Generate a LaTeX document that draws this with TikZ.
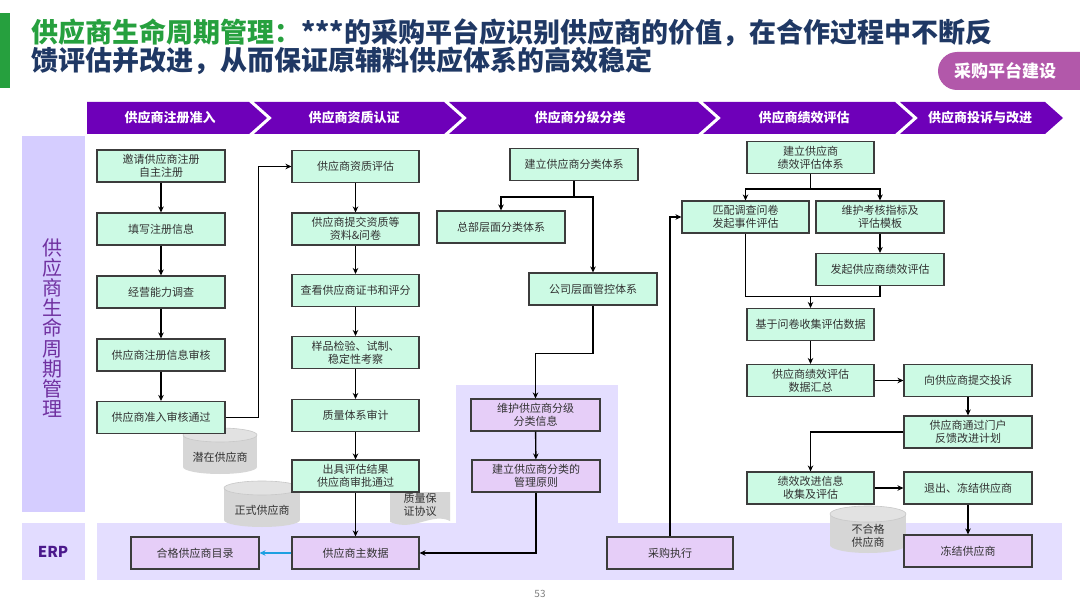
\documentclass[tikz,border=0pt]{standalone}
\usepackage{fontspec}
\setmainfont{Noto Sans CJK SC}
\usetikzlibrary{arrows.meta}
\definecolor{tgreen}{RGB}{38,160,62}
\definecolor{tnavy}{RGB}{31,56,100}
\definecolor{hdr}{RGB}{110,0,185}
\definecolor{tagc}{RGB}{178,88,170}
\definecolor{lavband}{RGB}{228,222,255}
\definecolor{lavcol}{RGB}{213,205,255}
\definecolor{lablav}{RGB}{226,220,255}
\definecolor{mint}{RGB}{204,250,228}
\definecolor{pboxc}{RGB}{230,206,248}
\definecolor{boxline}{RGB}{60,60,60}
\definecolor{erptxt}{RGB}{75,25,140}
\definecolor{lbltxt}{RGB}{112,48,160}
\definecolor{txtc}{RGB}{50,50,50}
\definecolor{cylbody}{RGB}{214,214,214}
\definecolor{cyltop}{RGB}{226,226,226}
\definecolor{cyledge}{RGB}{200,200,200}
\definecolor{bluearr}{RGB}{30,160,225}
\newcommand\cylshape[6]{%
  \fill[cylbody] (#1-#2,#4) rectangle (#1+#2,#5);
  \fill[cylbody] (#1,#5) ellipse[x radius=#2pt, y radius=#3pt];
  \filldraw[fill=cyltop,draw=cyledge,line width=0.6pt] (#1,#4) ellipse[x radius=#2pt, y radius=#3pt];
}
\begin{document}
\begin{tikzpicture}[x=1pt,y=-1pt,
  gbox/.style={draw=boxline,line width=1.1pt,fill=mint,minimum width=128pt,minimum height=32pt,
    inner sep=1pt,align=center,text=txtc,font=\fontsize{11}{13}\selectfont},
  pbox/.style={gbox,fill=pboxc},
  arr/.style={line width=1.4pt,-{Stealth[length=6pt,width=5.5pt]}},
  ln/.style={line width=1.4pt},
  hdrtxt/.style={text=white,font=\fontsize{13}{15}\selectfont\bfseries},
  chev/.style={fill=hdr},
  plain/.style={inner sep=0pt,align=center,text=txtc,font=\fontsize{11}{13}\selectfont}]
\useasboundingbox (0,0) rectangle (1080,607);
\fill[white] (0,0) rectangle (1080,607);

% title
\fill[tgreen] (0,13) rectangle (10,88);
\node[anchor=west,inner sep=0pt,text=tnavy,font=\fontsize{27}{29}\selectfont\bfseries] (t1) at (31,33)
  {\textcolor{tgreen}{供应商生命周期管理：}***的采购平台应识别供应商的价值，在合作过程中不断反};
\node[anchor=west,inner sep=0pt,text=tnavy,font=\fontsize{27}{29}\selectfont\bfseries] (t2) at (31,61)
  {馈评估并改进，从而保证原辅料供应体系的高效稳定};
\fill[tagc,rounded corners=19pt] (1110,52) -- (938,52) -- (938,90) -- (1110,90) -- cycle;
\node[text=white,font=\fontsize{17}{19}\selectfont\bfseries] (tag) at (1005,71) {采购平台建设};

% header chevrons
\fill[chev] (87,102) -- (249,102) -- (267,118) -- (249,134) -- (87,134) -- cycle;
\fill[chev] (254,102) -- (444,102) -- (462,118) -- (444,134) -- (254,134) -- (272,118) -- cycle;
\fill[chev] (449,102) -- (698,102) -- (716,118) -- (698,134) -- (449,134) -- (467,118) -- cycle;
\fill[chev] (703,102) -- (895,102) -- (913,118) -- (895,134) -- (703,134) -- (721,118) -- cycle;
\fill[chev] (900,102) -- (1045,102) -- (1063,118) -- (1045,134) -- (900,134) -- (918,118) -- cycle;
\node[hdrtxt] (h1) at (170,118) {供应商注册准入};
\node[hdrtxt] (h2) at (354,118) {供应商资质认证};
\node[hdrtxt] (h3) at (580,118) {供应商分级分类};
\node[hdrtxt] (h4) at (804,118) {供应商绩效评估};
\node[hdrtxt] (h5) at (980,118) {供应商投诉与改进};

% background regions
\fill[lavcol] (22,136) rectangle (85,512);
\fill[lablav] (22,523) rectangle (85,580);
\fill[lavband] (97,523) rectangle (1062,580);
\fill[lavband] (456,385) rectangle (618,523);
\node[text=lbltxt,align=center,inner sep=0pt,font=\fontsize{20}{20.2}\selectfont] (lbl) at (52,328)
  {供\\应\\商\\生\\命\\周\\期\\管\\理};
\node[text=erptxt,font=\fontsize{15}{17}\selectfont\bfseries] (erp) at (53,552) {ERP};

% cylinders and document shape
\cylshape{220}{37}{7}{435}{467}{}
\node[plain] (cylA) at (220,457) {潜在供应商};
\cylshape{262}{38}{7}{488}{520}{}
\node[plain] (cylB) at (262,510) {正式供应商};
\cylshape{868}{38}{8}{514}{545}{}
\node[plain] (cylC) at (868,536) {不合格\\供应商};
\fill[cylbody] (390,492) -- (450,492) -- (450,521) .. controls (432,512) and (414,532) .. (390,522) -- cycle;
\node[plain] (doc) at (420,505) {质量保\\证协议};

% column 1
\node[gbox] (c1a) at (161,166) {邀请供应商注册\\自主注册};
\node[gbox] (c1b) at (161,229) {填写注册信息};
\node[gbox] (c1c) at (161,292) {经营能力调查};
\node[gbox] (c1d) at (161,355) {供应商注册信息审核};
\node[gbox] (c1e) at (161,417.5) {供应商准入审核通过};
\node[pbox] (c1f) at (195,553) {合格供应商目录};

% column 2
\node[gbox,minimum width=127pt] (c2a) at (355.5,166.5) {供应商资质评估};
\node[gbox,minimum width=127pt] (c2b) at (355.5,229) {供应商提交资质等\\资料\&问卷};
\node[gbox,minimum width=127pt] (c2c) at (355.5,290.5) {查看供应商证书和评分};
\node[gbox,minimum width=127pt] (c2d) at (355.5,352.5) {样品检验、试制、\\稳定性考察};
\node[gbox,minimum width=127pt] (c2e) at (355.5,415.5) {质量体系审计};
\node[gbox,minimum width=127pt] (c2f) at (355.5,476) {出具评估结果\\供应商审批通过};
\node[pbox,minimum width=127pt] (c2g) at (355.5,553) {供应商主数据};

% column 3
\node[gbox] (c3a) at (574,164.5) {建立供应商分类体系};
\node[gbox] (c3b) at (501,227) {总部层面分类体系};
\node[gbox] (c3c) at (593,289) {公司层面管控体系};
\node[pbox,minimum width=129pt] (c3d) at (535.5,415) {维护供应商分级\\分类信息};
\node[pbox,minimum width=128pt] (c3e) at (536,476) {建立供应商分类的\\管理原则};
\node[pbox,minimum width=126pt] (buy) at (670,553) {采购执行};

% column 4
\node[gbox,minimum width=127pt] (c4a) at (810.5,157.5) {建立供应商\\绩效评估体系};
\node[gbox,minimum width=127pt] (c4b) at (745.5,217) {匹配调查问卷\\发起事件评估};
\node[gbox] (c4c) at (880,217) {维护考核指标及\\评估模板};
\node[gbox] (c4d) at (880,269.5) {发起供应商绩效评估};
\node[gbox,minimum width=127pt] (c4e) at (810.5,324.5) {基于问卷收集评估数据};
\node[gbox,minimum width=127pt] (c4f) at (810.5,380.5) {供应商绩效评估\\数据汇总};
\node[gbox,minimum width=127pt] (c4g) at (810.5,488) {绩效改进信息\\收集及评估};

% column 5
\node[gbox] (c5a) at (968,380.5) {向供应商提交投诉};
\node[gbox] (c5b) at (968,432) {供应商通过门户\\反馈改进计划};
\node[gbox] (c5c) at (968,488) {退出、冻结供应商};
\node[pbox] (c5d) at (968,551) {冻结供应商};

% connectors column 1
\draw[arr] (c1a) -- (c1b);
\draw[arr] (c1b) -- (c1c);
\draw[arr] (c1c) -- (c1d);
\draw[arr] (c1d) -- (c1e);
\draw[arr] (c1e.east) -- ++(33,0) |- (c2a.west);
% column 2
\draw[arr] (c2a) -- (c2b);
\draw[arr] (c2b) -- (c2c);
\draw[arr] (c2c) -- (c2d);
\draw[arr] (c2d) -- (c2e);
\draw[arr] (c2e) -- (c2f);
\draw[arr] (c2f) -- (c2g);
\draw[arr,bluearr] (c2g.west) -- (c1f.east);
% column 3
\draw[ln] (c3a.south) -- ++(0,16) coordinate (j3);
\draw[arr] (j3) -| (c3b.north);
\draw[arr] (j3) -| (c3c.north);
\draw[arr] (c3c.south) -- ++(0,48) -| (c3d.north);
\draw[arr] (c3d) -- (c3e);
\draw[arr] (c3e.south) |- (c2g.east);
\draw[arr] (buy.north) |- (c4b.west);
% column 4
\draw[ln] (c4a.south) -- ++(0,15) coordinate (j4);
\draw[arr] (j4) -| (c4b.north);
\draw[arr] (j4) -| (c4c.north);
\draw[arr] (c4c) -- (c4d);
\draw[ln] (c4b.south) -- ++(0,63) coordinate (m4) -| (c4d.south);
\draw[arr] (m4 -| c4e.north) -- (c4e.north);
\draw[arr] (c4e) -- (c4f);
\draw[arr] (c4f) -- (c5a);
\draw[arr] (c5a) -- (c5b);
\draw[arr] (c5b.west) -| (c4g.north);
\draw[arr] (c4g) -- (c5c);
\draw[arr] (c5c) -- (c5d);

% page number
\node[text=gray,font=\fontsize{10}{12}\selectfont] (pg) at (540,594) {53};
\end{tikzpicture}
\end{document}
